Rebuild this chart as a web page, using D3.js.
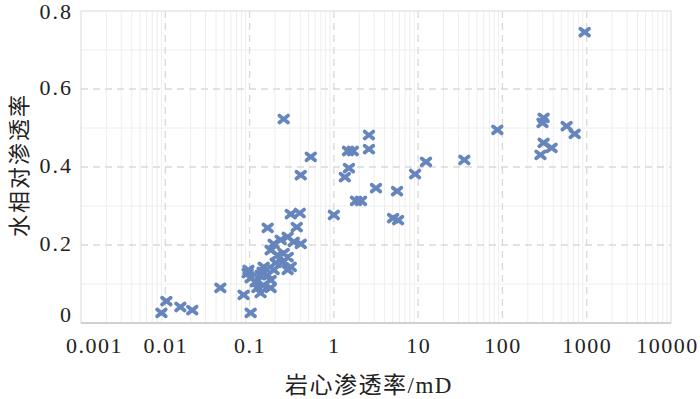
<!DOCTYPE html>
<html>
<head>
<meta charset="utf-8">
<script src="https://cdn.jsdelivr.net/npm/d3@7"></script>
<style>
  body { margin: 0; background: #fff; }
</style>
</head>
<body>
<div id="chart"></div>
<script>
// core permeability (mD) and water relative permeability
const perm = [0.0090, 0.0103, 0.0151, 0.0209, 0.045, 0.085, 0.103, 0.135, 0.124, 0.178,
              0.147, 0.178, 0.095, 0.103, 0.118, 0.135, 0.164, 0.097, 0.147, 0.143,
              0.193, 0.204, 0.247, 0.308, 0.283, 0.215, 0.254, 0.283, 0.178, 0.193,
              0.234, 0.283, 0.334, 0.405, 0.164, 0.363, 0.308, 0.394, 0.405, 0.532,
              0.254, 1.0, 1.35, 1.51, 1.47, 1.68, 2.61, 2.61, 3.16, 1.83,
              2.10, 5.62, 5.04, 5.78, 9.2, 12.4, 35.3, 87, 308, 299,
              578, 720, 308, 383, 283, 946];
const krw = [0.026, 0.056, 0.041, 0.033, 0.090, 0.072, 0.026, 0.077, 0.090, 0.090,
             0.097, 0.110, 0.128, 0.115, 0.105, 0.123, 0.123, 0.136, 0.144, 0.131,
             0.136, 0.154, 0.156, 0.144, 0.136, 0.174, 0.179, 0.169, 0.187, 0.203,
             0.213, 0.221, 0.208, 0.203, 0.244, 0.246, 0.279, 0.282, 0.379, 0.426,
             0.523, 0.277, 0.374, 0.397, 0.441, 0.441, 0.482, 0.446, 0.346, 0.313,
             0.313, 0.338, 0.269, 0.264, 0.382, 0.413, 0.418, 0.495, 0.526, 0.513,
             0.505, 0.485, 0.462, 0.449, 0.431, 0.746];

const xTicks = [0.001, 0.01, 0.1, 1, 10, 100, 1000, 10000];
const xTickLabels = ["0.001", "0.01", "0.1", "1", "10", "100", "1000", "10000"];
const yTicks = [0, 0.2, 0.4, 0.6, 0.8];
const yTickLabels = ["0", "0.2", "0.4", "0.6", "0.8"];
const yMinor = [0.1, 0.3, 0.5, 0.7];

const xTitle = "岩心渗透率/mD";
const yTitle = "水相对渗透率";

const margin = {top: 11, right: 29, bottom: 76, left: 81},
      width = 700 - margin.left - margin.right,
      height = 399 - margin.top - margin.bottom;

const svg = d3.select("#chart")
    .append("svg")
    .attr("width", 700)
    .attr("height", 399)
    .append("g")
    .attr("transform", `translate(${margin.left},${margin.top})`);

const x = d3.scaleLog().domain([0.001, 10000]).range([0, width]);
const y = d3.scaleLinear().domain([0, 0.8]).range([height, 0]);

// minor vertical gridlines (2..9 inside each decade)
const minorX = [];
xTicks.slice(0, -1).forEach(t => {
    for (let k = 2; k <= 9; k++) minorX.push(t * k);
});
svg.append("g")
    .selectAll("line")
    .data(minorX)
    .join("line")
    .attr("x1", d => x(d)).attr("x2", d => x(d))
    .attr("y1", 0).attr("y2", height)
    .attr("stroke", "#eeeeee")
    .attr("stroke-width", 1);

// minor horizontal gridlines
svg.append("g")
    .selectAll("line")
    .data(yMinor)
    .join("line")
    .attr("x1", 0).attr("x2", width)
    .attr("y1", d => y(d)).attr("y2", d => y(d))
    .attr("stroke", "#eeeeee")
    .attr("stroke-width", 1);

// major dashed gridlines
svg.append("g")
    .selectAll("line")
    .data(xTicks.slice(1, -1))
    .join("line")
    .attr("x1", d => x(d)).attr("x2", d => x(d))
    .attr("y1", 0).attr("y2", height)
    .attr("stroke", "#d9d9d9")
    .attr("stroke-width", 1.3)
    .attr("stroke-dasharray", "7,5");

svg.append("g")
    .selectAll("line")
    .data(yTicks.slice(1, -1))
    .join("line")
    .attr("x1", 0).attr("x2", width)
    .attr("y1", d => y(d)).attr("y2", d => y(d))
    .attr("stroke", "#d9d9d9")
    .attr("stroke-width", 1.3)
    .attr("stroke-dasharray", "7,5");

// plot border
svg.append("rect")
    .attr("x", 0).attr("y", 0)
    .attr("width", width).attr("height", height)
    .attr("fill", "none")
    .attr("stroke", "#d9d9d9")
    .attr("stroke-width", 1);

svg.append("line")
    .attr("x1", 0).attr("x2", width)
    .attr("y1", height).attr("y2", height)
    .attr("stroke", "#d0d0d0")
    .attr("stroke-width", 2);

// X axis labels
const xAxis = svg.append("g")
    .attr("transform", `translate(0,${height})`)
    .call(d3.axisBottom(x).tickValues(xTicks).tickFormat((d, i) => xTickLabels[i]).tickSize(0).tickPadding(14));
xAxis.select(".domain").remove();
xAxis.selectAll("text")
    .style("font-family", "'Liberation Serif', 'Times New Roman', serif")
    .style("font-size", "22px")
    .style("letter-spacing", "1.5px")
    .attr("fill", "#222")
    .attr("dx", (d, i) => i === 0 ? 13 : (i === xTicks.length - 1 ? -4 : 0));

// Y axis labels
const yAxis = svg.append("g")
    .call(d3.axisLeft(y).tickValues(yTicks).tickFormat((d, i) => yTickLabels[i]).tickSize(0).tickPadding(8));
yAxis.select(".domain").remove();
yAxis.selectAll("text")
    .style("font-family", "'Liberation Serif', 'Times New Roman', serif")
    .style("font-size", "22px")
    .style("letter-spacing", "2px")
    .attr("fill", "#222")
    .attr("dy", "0.32em")
    .attr("y", (d, i) => i === 0 ? -9 : (i === yTicks.length - 1 ? 0 : -2));

// points
svg.append("g")
    .selectAll("path")
    .data(perm.map((p, i) => ({p: p, k: krw[i]})))
    .join("path")
    .attr("transform", d => `translate(${x(d.p)},${y(d.k)})`)
    .attr("d", "M-4.3,-3.4L4.3,3.4M-4.3,3.4L4.3,-3.4")
    .attr("stroke", "#6585bc")
    .attr("stroke-width", 3.8)
    .attr("stroke-linecap", "round")
    .attr("fill", "none");

// axis titles
svg.append("text")
    .attr("x", 288)
    .attr("y", height + 70)
    .attr("text-anchor", "middle")
    .style("font-family", "'Liberation Serif', 'Noto Sans CJK SC', serif")
    .style("font-size", "23px")
    .style("letter-spacing", "1.5px")
    .attr("fill", "#222")
    .text(xTitle);

svg.append("text")
    .attr("transform", `translate(${-81 + 27},${154}) rotate(-90)`)
    .attr("text-anchor", "middle")
    .style("font-family", "'Noto Sans CJK SC', serif")
    .style("font-size", "22px")
    .style("letter-spacing", "2px")
    .attr("fill", "#222")
    .text(yTitle);
</script>
</body>
</html>
